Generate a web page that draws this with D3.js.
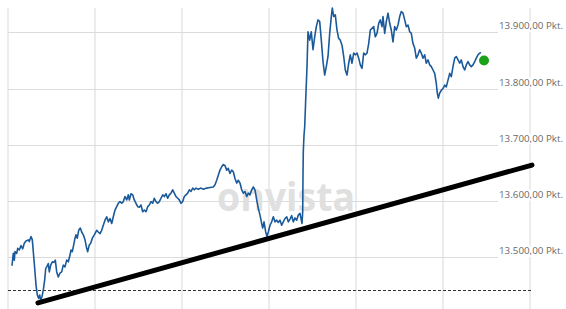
<!DOCTYPE html>
<html>
<head>
<meta charset="utf-8">
<script src="https://cdn.jsdelivr.net/npm/d3@7"></script>
<style>
  html, body { margin: 0; padding: 0; background: #fff; }
  svg { display: block; }
</style>
</head>
<body>
<div id="chart"></div>
<script>
// price path, [step, points]; one grid column = 87 steps
const kurs = [
  [4, 13485], [5.3, 13507], [6.3, 13495], [7, 13510], [8.7, 13507], [9.7, 13516], [11.3, 13513],
  [13, 13521], [14.7, 13515], [16.3, 13525], [18, 13529], [20.3, 13531], [21.3, 13528], [23, 13537],
  [24.3, 13531], [25.3, 13510], [26.7, 13480], [28, 13451], [29.3, 13433], [30.7, 13427], [31.7, 13433],
  [32.7, 13424], [34, 13430], [35.3, 13442], [36.7, 13460], [37.7, 13480], [38.7, 13483], [40.3, 13489],
  [41.3, 13474], [42.7, 13486], [44.3, 13492], [46, 13491], [47.3, 13495], [48.7, 13474], [50.3, 13465],
  [52, 13472], [53.7, 13474], [55.3, 13486], [57, 13483], [58.7, 13495], [60.3, 13492], [62, 13504],
  [63, 13513], [64.3, 13510], [65.7, 13522], [67, 13534], [68, 13540], [69.3, 13534], [70.7, 13548],
  [72.3, 13552], [73.7, 13545], [75.3, 13540], [77, 13531], [78.7, 13516], [79.7, 13510], [81.3, 13522],
  [82.7, 13525], [84.3, 13534], [86.3, 13540], [88.7, 13548], [90.3, 13545], [92, 13542],
  [93.7, 13548], [95.3, 13557], [97, 13566], [98.7, 13572], [100.3, 13563], [102, 13569], [103.7, 13560],
  [105.3, 13572], [107, 13584], [108.7, 13590], [110.3, 13596], [112, 13599], [113.7, 13596], [115.3, 13599],
  [117, 13608], [118.7, 13602], [120.3, 13611], [121.3, 13602], [123, 13613], [124.7, 13611], [126.3, 13602],
  [128, 13596], [129.7, 13590], [131.3, 13589], [133, 13593], [134.7, 13581], [136.3, 13584], [138, 13581],
  [139.7, 13590], [141.3, 13593], [143, 13599], [144.7, 13596], [146.3, 13605], [148, 13599], [149.7, 13596],
  [151.3, 13599], [153, 13605], [154.7, 13611], [156.3, 13608], [158, 13613], [159.7, 13605], [161.3, 13611],
  [163, 13614], [164.7, 13620], [166.3, 13614], [168, 13608], [169.7, 13605], [171.3, 13602], [173, 13596],
  [174.7, 13599], [176.3, 13608], [178, 13611], [179.7, 13614], [181.3, 13620], [183, 13617], [184.7, 13623],
  [186.3, 13620], [188, 13623], [190.3, 13621], [193, 13623], [195.3, 13621], [198.7, 13623], [202, 13624],
  [205.3, 13625],
  [207, 13629], [208.7, 13637], [210.3, 13646], [212, 13655], [213.7, 13661], [215.3, 13665], [217, 13663],
  [218.7, 13655], [220.3, 13658], [222, 13649], [223.7, 13655], [225.3, 13652], [227, 13640], [228.7, 13632],
  [230.3, 13637], [232, 13632], [233.7, 13620], [235.3, 13614], [237, 13617], [238.7, 13608], [240.3, 13614],
  [242, 13611], [243.7, 13620], [245.3, 13625], [247, 13620], [248.7, 13602], [250.3, 13587], [252, 13575],
  [253.7, 13560], [254.7, 13552], [256, 13563], [257.7, 13545], [259, 13537], [260.3, 13545], [262, 13557],
  [263.7, 13563], [265.3, 13572], [267, 13563], [268.7, 13566], [270.3, 13562], [272, 13566], [273.7, 13557],
  [275.3, 13563], [277, 13569], [278.7, 13572], [280.3, 13563], [282, 13568], [283.7, 13574], [285.3, 13563],
  [287, 13570], [288.7, 13566], [290.3, 13575], [292, 13578], [293, 13569], [294, 13560], [294.7, 13581],
  [295, 13646], [295.3, 13688], [296, 13717], [296.7, 13732], [297.7, 13780], [299, 13839], [300, 13901],
  [301.7, 13886], [303.3, 13901], [305, 13869], [306.7, 13892], [308.3, 13910], [310, 13922], [311.7, 13919],
  [313.3, 13886], [315, 13848], [316.7, 13824], [318.3, 13839], [320, 13857], [321.7, 13898], [323.3, 13928],
  [324.3, 13943], [325.7, 13928], [327.3, 13931], [329, 13904], [330.7, 13889], [332.3, 13886], [334, 13877],
  [335.7, 13857], [337.3, 13833], [339, 13824], [340.7, 13845], [342.3, 13860], [344, 13845], [345.7, 13863],
  [347.3, 13860], [349, 13863], [350.7, 13854], [352.3, 13842], [354, 13836], [355.7, 13863], [357.3, 13860],
  [359, 13863], [360.7, 13880], [362.3, 13904], [364, 13907], [365.7, 13910], [367.3, 13892], [369, 13898],
  [370.7, 13916], [372.3, 13922], [374, 13910], [375, 13928], [376.7, 13898], [378.3, 13919], [380, 13934],
  [381.7, 13916], [383.3, 13904], [385, 13883], [386.7, 13910], [388.3, 13904], [390, 13913], [391.7, 13928],
  [393.3, 13937], [395, 13934], [396.7, 13922], [398.3, 13910], [400, 13913], [401.7, 13901], [403.3, 13898],
  [405, 13880], [406.7, 13872], [408.3, 13854], [410, 13860], [411.7, 13869], [413.3, 13863], [415, 13854],
  [416.7, 13860], [418.3, 13845], [420, 13851], [421.7, 13842], [423.3, 13839], [425, 13833], [426.7, 13827],
  [428.3, 13809], [429.3, 13792], [430.3, 13783], [431.7, 13792], [433.3, 13797], [435, 13800], [436.7, 13806],
  [438.3, 13803], [440, 13815], [441.7, 13827], [443.3, 13821], [445, 13839], [446.7, 13854], [448.3, 13857],
  [450, 13851], [451.7, 13845], [453.3, 13851], [455, 13839], [456.7, 13833], [458.3, 13842], [460, 13848],
  [461.7, 13842], [463.3, 13839], [465, 13842], [466.7, 13848], [468.3, 13854], [470, 13860], [471.7, 13863],
  [473, 13864]
];

const lastQuote = [476, 13850];
const trendLine = [[30, 13419], [524, 13664]];
const referenceLevel = 13441;
const yTicks = [13500, 13600, 13700, 13800, 13900];
const xTicks = [0, 87, 174, 261, 348, 435, 522];

const width = 566;
const height = 309;
const plot = { left: 8, top: 8, right: 530, bottom: 309, gridEnd: 498, dashEnd: 533 };

const de = d3.formatLocale({ decimal: ",", thousands: ".", grouping: [3], currency: ["", " €"] });
const fmt = (v) => `${de.format(",.2f")(v)} Pkt.`;

const x = d3.scaleLinear().domain([0, 522]).range([plot.left, plot.right]);
const y = d3.scaleLinear().domain([13500, 13900]).range([257.3, 32.3]);

const svg = d3.select("#chart")
  .append("svg")
  .attr("width", width)
  .attr("height", height);

// vertical grid
svg.append("g")
  .selectAll("line")
  .data(xTicks)
  .join("line")
  .attr("x1", (d) => x(d))
  .attr("x2", (d) => x(d))
  .attr("y1", plot.top)
  .attr("y2", plot.bottom)
  .attr("stroke", "#ececec")
  .attr("stroke-width", 2);

// horizontal grid
svg.append("g")
  .selectAll("line")
  .data(yTicks)
  .join("line")
  .attr("x1", plot.left)
  .attr("x2", plot.gridEnd)
  .attr("y1", (d) => Math.round(y(d)) + 0.5)
  .attr("y2", (d) => Math.round(y(d)) + 0.5)
  .attr("stroke", "#dcdcdc")
  .attr("stroke-width", 1);

// watermark
svg.append("text")
  .attr("x", 217)
  .attr("y", 211)
  .attr("textLength", 138)
  .attr("lengthAdjust", "spacingAndGlyphs")
  .attr("font-family", "'Open Sans', sans-serif")
  .attr("font-weight", 700)
  .attr("font-size", 40)
  .attr("fill", "#e0e0e0")
  .text("onvista");

// y labels
const labels = svg.append("g")
  .selectAll("g")
  .data(yTicks)
  .join("g");

labels.append("rect")
  .attr("x", plot.gridEnd)
  .attr("y", (d) => y(d) - 11)
  .attr("width", width - plot.gridEnd)
  .attr("height", 10.5)
  .attr("fill", "#fff");

labels.append("text")
  .attr("x", 563)
  .attr("y", (d) => y(d) - 3)
  .attr("text-anchor", "end")
  .attr("font-family", "'Open Sans', sans-serif")
  .attr("font-size", 9.8)
  .attr("fill", "#6a6a6a")
  .text((d) => fmt(d));

// reference level
svg.append("line")
  .attr("x1", plot.left)
  .attr("x2", plot.dashEnd)
  .attr("y1", Math.round(y(referenceLevel)) + 0.5)
  .attr("y2", Math.round(y(referenceLevel)) + 0.5)
  .attr("stroke", "#333")
  .attr("stroke-width", 1)
  .attr("stroke-dasharray", "3,2");

// price line
const line = d3.line()
  .x((d) => x(d[0]))
  .y((d) => y(d[1]));

svg.append("path")
  .datum(kurs)
  .attr("d", line)
  .attr("fill", "none")
  .attr("stroke", "#1b5a9a")
  .attr("stroke-width", 1.6)
  .attr("stroke-linejoin", "round");

// drawn trend line
svg.append("path")
  .datum(trendLine)
  .attr("d", line)
  .attr("fill", "none")
  .attr("stroke", "#000")
  .attr("stroke-width", 5)
  .attr("stroke-linecap", "round");

svg.append("circle")
  .attr("cx", x(lastQuote[0]))
  .attr("cy", y(lastQuote[1]))
  .attr("r", 5)
  .attr("fill", "#1aa31a");
</script>
</body>
</html>
